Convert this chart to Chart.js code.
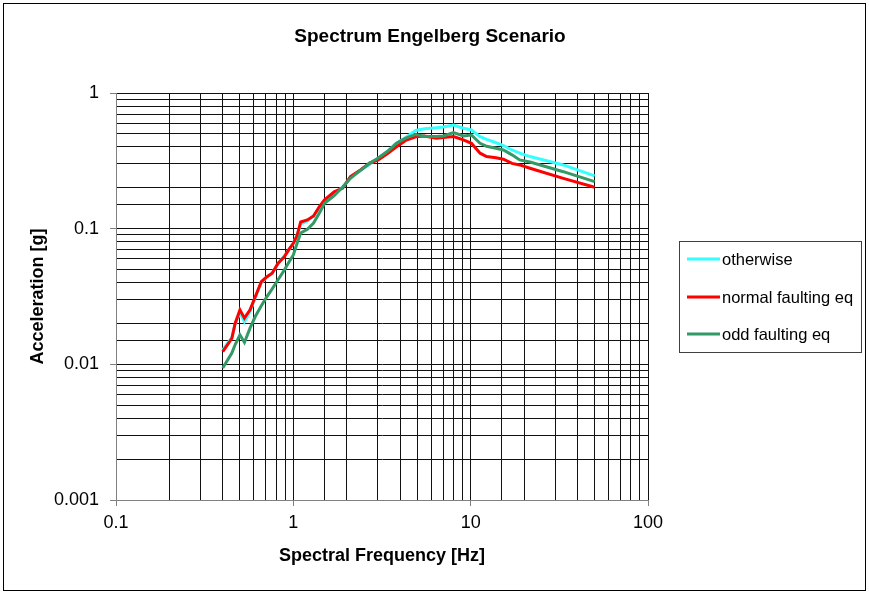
<!DOCTYPE html>
<html>
<head>
<meta charset="utf-8">
<script src="https://cdn.jsdelivr.net/npm/chart.js@4/dist/chart.umd.min.js"></script>
<style>
  html, body { margin: 0; padding: 0; background: #fff; }
  #wrap { position: relative; width: 869px; height: 594px; }
</style>
</head>
<body>
<div id="wrap"><canvas id="spectrum"></canvas></div>
<script>
// spectral frequencies [Hz]
var freqs = [0.4, 0.45, 0.47, 0.5, 0.53, 0.57, 0.61, 0.66, 0.71, 0.76, 0.82, 0.89, 0.94, 1.0, 1.05,
    1.1, 1.2, 1.3, 1.4, 1.5, 1.7, 1.9, 2.1, 2.4, 2.7, 3.0, 3.4, 3.8, 4.3, 4.9, 5.5, 6.4, 7.0,
    8.0, 9.1, 10.1, 11.3, 12.3, 13.9, 15.3, 17.1, 18.9, 21.6, 33.3, 50];

// acceleration [g]
var otherwise = [0.0128, 0.0158, 0.0198, 0.024, 0.0206, 0.0245, 0.031, 0.040, 0.044, 0.047, 0.055,
    0.063, 0.069, 0.078, 0.09, 0.108, 0.114, 0.124, 0.143, 0.16, 0.183, 0.202, 0.24, 0.27, 0.298,
    0.33, 0.37, 0.425, 0.47, 0.53, 0.545, 0.555, 0.562, 0.58, 0.55, 0.534, 0.477, 0.455, 0.43,
    0.41, 0.38, 0.36, 0.34, 0.295, 0.245];
var normalFaulting = [0.0124, 0.0155, 0.0201, 0.0252, 0.0219, 0.0252, 0.0315, 0.0407, 0.0443, 0.0469,
    0.0556, 0.062, 0.0697, 0.078, 0.089, 0.112, 0.116, 0.124, 0.145, 0.163, 0.187, 0.199, 0.242,
    0.272, 0.305, 0.32, 0.358, 0.40, 0.447, 0.475, 0.482, 0.464, 0.47, 0.477, 0.451, 0.426, 0.36,
    0.34, 0.333, 0.325, 0.303, 0.295, 0.279, 0.235, 0.202];
var oddFaulting = [0.0094, 0.0121, 0.014, 0.0165, 0.0145, 0.0185, 0.0225, 0.027, 0.0316, 0.036, 0.042,
    0.0496, 0.056, 0.064, 0.078, 0.093, 0.099, 0.11, 0.13, 0.154, 0.175, 0.203, 0.235, 0.27, 0.305,
    0.33, 0.372, 0.424, 0.465, 0.495, 0.48, 0.477, 0.482, 0.51, 0.482, 0.49, 0.426, 0.405, 0.391,
    0.38, 0.35, 0.321, 0.31, 0.263, 0.222];

var seriesLabels = ['otherwise', 'normal faulting eq', 'odd faulting eq'];
var seriesColors = ['#33ffff', '#ff0000', '#339966'];

var FONT = "'Liberation Sans', Arial, sans-serif";

function isPow10(v) {
    var l = Math.log10(v);
    return Math.abs(l - Math.round(l)) < 1e-6;
}

function toPoints(ys) {
    return freqs.map(function (f, i) { return { x: f, y: ys[i] }; });
}

var decorations = {
    id: 'decorations',
    beforeDraw: function (c) {
        var ctx = c.ctx;
        ctx.save();
        ctx.fillStyle = '#fff';
        ctx.fillRect(0, 0, c.width, c.height);
        ctx.restore();
    },
    afterDraw: function (c) {
        var ctx = c.ctx;
        ctx.save();
        // outer frame
        ctx.strokeStyle = '#000';
        ctx.lineWidth = 1;
        ctx.strokeRect(3.5, 3.5, 862, 587);
        // title
        ctx.fillStyle = '#000';
        ctx.font = 'bold 19px ' + FONT;
        ctx.textAlign = 'center';
        ctx.textBaseline = 'middle';
        ctx.fillText('Spectrum Engelberg Scenario', 430, 37);
        // legend
        ctx.strokeStyle = '#404040';
        ctx.strokeRect(679.5, 241.5, 182, 111);
        ctx.font = '16.5px ' + FONT;
        ctx.textAlign = 'left';
        var rowY = [259, 297, 334];
        c.data.datasets.forEach(function (ds, i) {
            ctx.strokeStyle = ds.borderColor;
            ctx.lineWidth = 3;
            ctx.beginPath();
            ctx.moveTo(687, rowY[i]);
            ctx.lineTo(720, rowY[i]);
            ctx.stroke();
            ctx.fillStyle = '#000';
            ctx.fillText(ds.label, 722, rowY[i] + 1);
        });
        ctx.restore();
    }
};

new Chart(document.getElementById('spectrum').getContext('2d'), {
    type: 'line',
    data: {
        datasets: [otherwise, normalFaulting, oddFaulting].map(function (ys, i) {
            return {
                label: seriesLabels[i],
                data: toPoints(ys),
                borderColor: seriesColors[i],
                backgroundColor: seriesColors[i],
                borderWidth: 3,
                pointRadius: 0,
                tension: 0,
                fill: false,
                order: 3 - i
            };
        })
    },
    options: {
        responsive: true,
        maintainAspectRatio: false,
        animation: false,
        events: [],
        layout: { padding: { left: 0, right: 221, top: 93, bottom: 0 } },
        plugins: {
            legend: { display: false },
            title: { display: false },
            tooltip: { enabled: false }
        },
        scales: {
            x: {
                type: 'logarithmic',
                min: 0.1,
                max: 100,
                afterFit: function (s) { s.height = 94; },
                border: { color: '#808080', width: 1 },
                grid: {
                    color: '#111',
                    lineWidth: 1,
                    tickLength: 6,
                    tickColor: function (ctx) { return ctx.tick && isPow10(ctx.tick.value) ? '#808080' : 'rgba(0,0,0,0)'; }
                },
                ticks: {
                    autoSkip: false,
                    maxRotation: 0,
                    padding: 6,
                    color: '#000',
                    font: { family: FONT, size: 18 },
                    callback: function (v) { return isPow10(v) ? String(Number(v.toPrecision(1))) : ''; }
                },
                title: {
                    display: true,
                    text: 'Spectral Frequency [Hz]',
                    color: '#000',
                    font: { family: FONT, size: 18, weight: 'bold' },
                    padding: { top: 0, bottom: 27 }
                }
            },
            y: {
                type: 'logarithmic',
                min: 0.001,
                max: 1,
                afterFit: function (s) { s.width = 116; },
                border: { color: '#808080', width: 1 },
                grid: {
                    color: '#111',
                    lineWidth: 1,
                    tickLength: 6,
                    tickColor: function (ctx) { return ctx.tick && isPow10(ctx.tick.value) ? '#808080' : 'rgba(0,0,0,0)'; }
                },
                ticks: {
                    autoSkip: false,
                    padding: 11,
                    color: '#000',
                    font: { family: FONT, size: 18 },
                    callback: function (v) { return isPow10(v) ? String(Number(v.toPrecision(1))) : ''; }
                },
                title: {
                    display: true,
                    text: 'Acceleration [g]',
                    color: '#000',
                    font: { family: FONT, size: 18, weight: 'bold' },
                    padding: { top: 27, bottom: 0 }
                }
            }
        }
    },
    plugins: [decorations]
});
</script>
</body>
</html>
